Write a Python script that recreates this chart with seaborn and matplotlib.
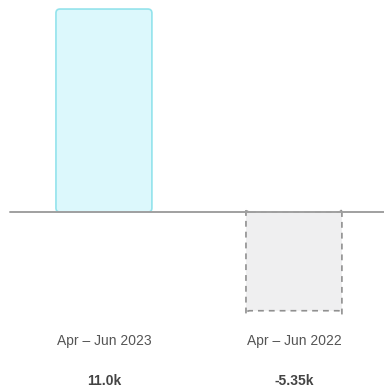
import matplotlib
matplotlib.use("Agg")
import matplotlib.pyplot as plt
from matplotlib.patches import FancyBboxPatch
import seaborn as sns
import pandas as pd

categories = ["Apr – Jun 2023", "Apr – Jun 2022"]
values = [11.0, -5.35]          # thousands
value_labels = ["11.0k", "-5.35k"]
fill_colors = ["#dcf8fc", "#efeff0"]
edge_colors = ["#93e3ec", "#909090"]
edge_styles = ["solid", (0, (3.5, 3))]

sns.set_theme(style="white")
plt.rcParams['font.family'] = ['Liberation Sans', 'DejaVu Sans']

df = pd.DataFrame({"period": categories, "value": values})

fig = plt.figure(figsize=(3.84, 3.91), dpi=100)
ax = fig.add_axes([0, 0, 1, 1])

sns.barplot(data=df, x="period", y="value", hue="period",
            palette=fill_colors, legend=False, width=0.505, ax=ax)

ax.set_xlim(-0.547, 1.474)
ax.set_ylim(-9.70, 11.49)

# px per unit
ppx = 384 / (1.474 + 0.547)
ppy = 391 / (11.49 + 9.70)

bars = list(ax.patches)
for i, b in enumerate(bars):
    x, y, w, h = b.get_x(), b.get_y(), b.get_width(), b.get_height()
    b.set_visible(False)
    r = 4 / ppx
    fb = FancyBboxPatch((x, y), w, h,
                        boxstyle=f"round,pad=0,rounding_size={r}",
                        mutation_aspect=ppx / ppy,
                        facecolor=fill_colors[i], edgecolor=edge_colors[i],
                        linewidth=1.2, linestyle=edge_styles[i], zorder=2)
    ax.add_patch(fb)

ax.axhline(0, xmin=10 / 384, xmax=1, color="#a0a0a0", linewidth=1.4, zorder=3)

trans = ax.get_xaxis_transform()
for i, (c, lab) in enumerate(zip(categories, value_labels)):
    ax.text(i, 50 / 391, c, transform=trans, ha="center", va="center",
            fontsize=10, color="#555555")
    ax.text(i, 10 / 391, lab, transform=trans, ha="center", va="center",
            fontsize=10, fontweight="bold", color="#444444")

ax.set_axis_off()
fig.savefig("out.png", dpi=100)
